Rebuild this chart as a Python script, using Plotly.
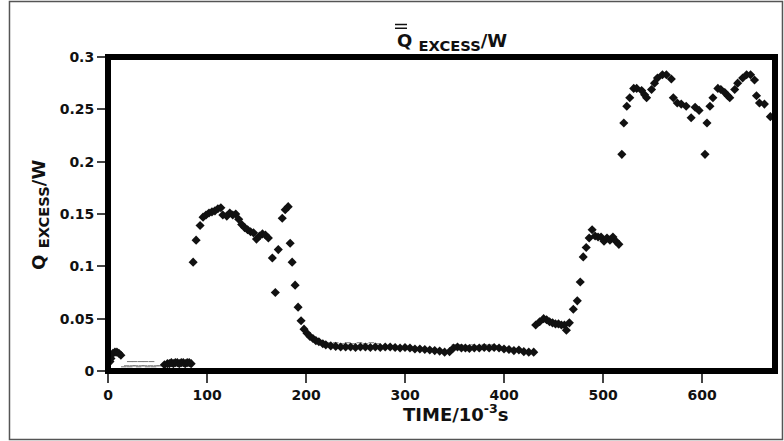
import plotly.graph_objects as go

# ---- data ----
t_main = [2, 3, 5, 7, 9, 11, 13,
          57, 60, 62, 64, 66, 68, 70, 72, 74, 76, 78, 80, 82, 84,
          86, 89, 93, 96, 99, 102, 105, 108, 111, 114, 116, 120, 123, 126, 129,
          132, 135, 138, 141, 144, 147, 150, 153, 156, 159, 162, 166, 169, 172,
          176, 179, 182, 184, 186, 189, 192, 195, 198, 201, 204, 207, 210, 213, 217,
          220, 225, 230, 235, 240, 245, 250, 255, 260, 265, 270, 275, 280, 285,
          290, 295, 300, 305, 310, 315, 320, 325, 330, 335, 340, 345,
          349, 353, 357, 361, 365, 370, 375, 380, 385, 390, 395, 400, 405, 410,
          415, 420, 425, 430,
          432, 436, 440, 443, 446, 449, 452, 455, 458, 461, 463, 466, 470, 474,
          477, 480, 483, 486, 489, 492, 495, 498, 501, 504, 507, 510, 513, 516,
          519, 521, 524, 527, 531, 534, 539, 542, 544, 549, 552, 555, 560, 564,
          569, 571, 575, 579, 584, 589, 593, 597,
          603, 605, 608, 611, 616, 619, 623, 626, 628, 633, 636, 641, 645, 649,
          653, 655, 658, 663, 669]
q_main = [0.009, 0.012, 0.017, 0.018, 0.018, 0.017, 0.015,
          0.006, 0.007, 0.007, 0.008, 0.007, 0.008, 0.008, 0.007, 0.008, 0.008, 0.007, 0.008, 0.008, 0.007,
          0.104, 0.125, 0.139, 0.147, 0.149, 0.151, 0.152, 0.153, 0.155, 0.156, 0.149, 0.148, 0.151, 0.149, 0.150,
          0.145, 0.140, 0.137, 0.135, 0.133, 0.132, 0.126, 0.129, 0.131, 0.130, 0.127, 0.108, 0.075, 0.116,
          0.146, 0.154, 0.157, 0.122, 0.104, 0.082, 0.061, 0.048, 0.040, 0.036, 0.033, 0.031, 0.029, 0.028, 0.026,
          0.025, 0.024, 0.0235, 0.023, 0.023, 0.023, 0.0225, 0.023, 0.023, 0.0225, 0.023, 0.0225, 0.023, 0.023,
          0.0225, 0.022, 0.0225, 0.022, 0.021, 0.021, 0.0205, 0.020, 0.0195, 0.019, 0.018, 0.0185,
          0.022, 0.023, 0.022, 0.022, 0.0215, 0.022, 0.022, 0.0225, 0.022, 0.0225, 0.022, 0.021, 0.0205, 0.0195,
          0.020, 0.0185, 0.018, 0.018,
          0.044, 0.047, 0.050, 0.049, 0.047, 0.046, 0.045, 0.045, 0.044, 0.044, 0.039, 0.046, 0.059, 0.067,
          0.085, 0.109, 0.118, 0.127, 0.135, 0.129, 0.128, 0.128, 0.124, 0.127, 0.125, 0.128, 0.124, 0.121,
          0.207, 0.237, 0.253, 0.261, 0.270, 0.270, 0.268, 0.264, 0.261, 0.269, 0.275, 0.280, 0.283, 0.283,
          0.279, 0.261, 0.256, 0.255, 0.253, 0.242, 0.252, 0.249,
          0.207, 0.237, 0.253, 0.261, 0.270, 0.269, 0.266, 0.263, 0.261, 0.269, 0.275, 0.280, 0.283, 0.283,
          0.278, 0.263, 0.256, 0.255, 0.243]

# faint scanned specks / light dashes
t_faint = [16, 19, 22, 25, 28, 31, 34, 37, 40, 43, 46, 49, 52, 55,
           22, 27, 33, 38, 44,
           222, 226, 230, 236, 242, 248, 254, 260, 266, 272,
           350, 356, 362, 368, 374, 380, 386, 392]
q_faint = [0.004, 0.005, 0.004, 0.005, 0.005, 0.004, 0.005, 0.005, 0.004, 0.005, 0.004, 0.005, 0.005, 0.005,
           0.009, 0.009, 0.009, 0.009, 0.009,
           0.027, 0.026, 0.027, 0.026, 0.027, 0.026, 0.027, 0.026, 0.027, 0.026,
           0.025, 0.025, 0.024, 0.025, 0.024, 0.025, 0.025, 0.024]

x_ticks = [0, 100, 200, 300, 400, 500, 600]
y_ticks = [0, 0.05, 0.1, 0.15, 0.2, 0.25, 0.3]
y_tick_labels = ["0", "0.05", "0.1", "0.15", "0.2", "0.25", "0.3"]

FONT = "DejaVu Sans"

fig = go.Figure()
fig.add_trace(go.Scatter(x=t_faint, y=q_faint, mode="markers",
                         marker=dict(symbol="line-ew", size=4, color="#777",
                                     line=dict(width=1, color="#777")),
                         hoverinfo="skip", showlegend=False))
fig.add_trace(go.Scatter(x=t_main, y=q_main, mode="markers",
                         marker=dict(symbol="diamond", size=7, color="#111"),
                         showlegend=False))

fig.update_layout(
    width=784, height=441,
    margin=dict(l=108, r=9, t=57, b=70),
    paper_bgcolor="white", plot_bgcolor="white",
    font=dict(family=FONT, size=14, color="#111"),
    xaxis=dict(range=[0, 673.7], tickvals=x_ticks, ticks="outside", ticklen=11,
               tickwidth=1.5, tickcolor="#444", showgrid=False, zeroline=False,
               showline=False, tickfont=dict(family=FONT, size=14, weight="bold")),
    yaxis=dict(range=[0, 0.3], tickvals=y_ticks, ticktext=y_tick_labels,
               ticks="outside", ticklen=10, tickwidth=1.5, tickcolor="#444",
               showgrid=False, zeroline=False, showline=False,
               tickfont=dict(family=FONT, size=14, weight="bold")),
    shapes=[
        dict(type="rect", xref="paper", yref="paper", x0=0, x1=1, y0=0, y1=1,
             line=dict(color="black", width=6), layer="above"),
        dict(type="rect", xref="paper", yref="paper", x0=-0.1477, x1=1.0112,
             y0=-0.218, y1=1.1768, line=dict(color="#555", width=1.5)),
        # double overbar on the Q of the title
        dict(type="line", xref="paper", yref="paper", x0=0.4303, x1=0.4483,
             y0=1.1035, y1=1.1035, line=dict(color="#111", width=1.5)),
        dict(type="line", xref="paper", yref="paper", x0=0.4303, x1=0.4483,
             y0=1.0915, y1=1.0915, line=dict(color="#111", width=1.5)),
    ],
    annotations=[
        dict(text="Q <span style='font-size:21px'><sub>EXCESS</sub></span>/W",
             xref="paper", yref="paper", x=0.5157, y=1.048, showarrow=False,
             xanchor="center", yanchor="middle",
             font=dict(family=FONT, size=18, weight="bold", color="#111")),
        dict(text="Q <span style='font-size:21px'><sub>EXCESS</sub></span>/W",
             xref="paper", yref="paper", x=-0.102, y=0.497, showarrow=False,
             textangle=-90, xanchor="center", yanchor="middle",
             font=dict(family=FONT, size=18, weight="bold", color="#111")),
        dict(text="TIME/10<sup>-3</sup>s",
             xref="paper", yref="paper", x=0.5217, y=-0.134, showarrow=False,
             xanchor="center", yanchor="middle",
             font=dict(family=FONT, size=18, weight="bold", color="#111")),
    ],
)

fig.write_html("out.html", config={"displayModeBar": False},
               post_script="document.body.style.margin='0';document.body.style.padding='0';")
